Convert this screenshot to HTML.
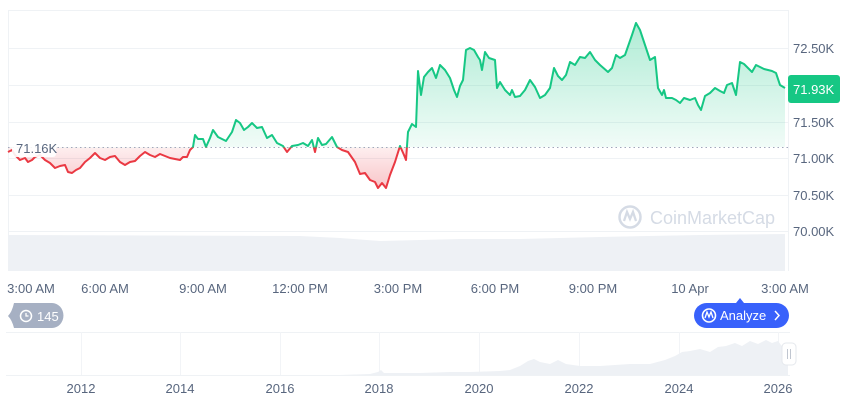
<!DOCTYPE html>
<html><head><meta charset="utf-8"><style>
html,body{margin:0;padding:0;background:#fff;}
svg{display:block;font-family:"Liberation Sans",sans-serif;}
</style></head><body>
<svg width="860" height="401" viewBox="0 0 860 401" xmlns="http://www.w3.org/2000/svg">
<defs>
<linearGradient id="gg" gradientUnits="userSpaceOnUse" x1="0" y1="20" x2="0" y2="147">
<stop offset="0" stop-color="#16c784" stop-opacity="0.35"/><stop offset="1" stop-color="#16c784" stop-opacity="0.06"/></linearGradient>
<linearGradient id="rg" gradientUnits="userSpaceOnUse" x1="0" y1="147" x2="0" y2="190">
<stop offset="0" stop-color="#ea3943" stop-opacity="0.08"/><stop offset="1" stop-color="#ea3943" stop-opacity="0.3"/></linearGradient>
<clipPath id="up"><rect x="0" y="0" width="790" height="147.5"/></clipPath>
<clipPath id="dn"><rect x="0" y="147.5" width="790" height="100"/></clipPath>
</defs>
<g stroke="#eff2f5" stroke-width="1">
<line x1="8" y1="10.5" x2="788" y2="10.5"/>
<line x1="8" y1="48.5" x2="788" y2="48.5"/>
<line x1="8" y1="85.5" x2="788" y2="85.5"/>
<line x1="8" y1="122.5" x2="788" y2="122.5"/>
<line x1="8" y1="158.5" x2="788" y2="158.5"/>
<line x1="8" y1="195.5" x2="788" y2="195.5"/>
<line x1="8" y1="231.5" x2="788" y2="231.5"/>
<line x1="8.5" y1="10" x2="8.5" y2="271"/>
<line x1="788.5" y1="10" x2="788.5" y2="271"/>
</g>
<path d="M8,235 L300,236 L340,238 L380,241 L420,240 L460,239 L520,239 L600,237 L700,235 L785,234 L785,271 L8,271 Z" fill="#eef1f5"/>
<g>
<circle cx="630" cy="217" r="10.5" fill="none" stroke="#d5dbe5" stroke-width="2.5"/>
<path d="M624,221 L627,212 L630,219 L633,212 L636,221" fill="none" stroke="#d5dbe5" stroke-width="2.3"/>
<text x="650" y="224" font-size="18" fill="#d5dbe5">CoinMarketCap</text>
</g>
<polygon fill="url(#gg)" clip-path="url(#up)" points="8,147 8,152 12,150 15,155 20,160 25,158 28,162 32,160 35,157 40,155 45,160 50,163 55,168 60,166 65,165 68,172 72,173 76,170 80,168 85,162 90,158 95,153 100,158 105,160 110,157 115,156 120,162 125,165 130,162 135,161 140,156 145,152 150,155 155,157 160,154 165,156 170,158 175,159 180,160 183,157 187,157 190,150 193,147 195,135 198,139 203,139 206,147 210,138 213,130 218,137 222,139 226,141 232,132 236,120 240,123 244,130 248,127 252,123 257,128 262,127 267,138 272,135 277,143 283,146 287,152 292,146 298,145 303,143 308,146 312,140 315,152 318,138 322,145 326,144 332,137 337,147 342,150 348,152 355,162 360,174 365,173 370,180 375,182 378,188 382,183 386,188 390,175 395,162 400,146 404,155 406,160 408,132 412,124 416,127 418,71 421,95 424,77 428,72 432,68 436,78 440,65 445,70 450,78 454,90 457,97 460,86 463,80 466,50 470,48 474,50 478,57 480,60 482,70 485,52 489,58 495,60 497,88 500,82 505,90 510,95 512,90 515,97 520,96 525,90 530,80 535,87 540,98 545,95 550,88 554,68 558,76 562,80 566,75 570,62 575,65 580,57 585,58 590,52 595,60 600,65 608,72 612,68 616,55 620,58 625,55 632,35 636,23 640,30 645,45 650,60 655,57 658,88 662,95 664,90 666,98 672,98 676,100 680,103 684,98 690,100 695,98 698,105 701,110 705,96 710,93 715,88 720,91 724,93 727,85 732,83 736,95 740,62 744,64 748,68 752,72 756,65 760,67 764,69 768,70 772,71 776,73 780,85 785,88 785,147"/>
<polygon fill="url(#rg)" clip-path="url(#dn)" points="8,147 8,152 12,150 15,155 20,160 25,158 28,162 32,160 35,157 40,155 45,160 50,163 55,168 60,166 65,165 68,172 72,173 76,170 80,168 85,162 90,158 95,153 100,158 105,160 110,157 115,156 120,162 125,165 130,162 135,161 140,156 145,152 150,155 155,157 160,154 165,156 170,158 175,159 180,160 183,157 187,157 190,150 193,147 195,135 198,139 203,139 206,147 210,138 213,130 218,137 222,139 226,141 232,132 236,120 240,123 244,130 248,127 252,123 257,128 262,127 267,138 272,135 277,143 283,146 287,152 292,146 298,145 303,143 308,146 312,140 315,152 318,138 322,145 326,144 332,137 337,147 342,150 348,152 355,162 360,174 365,173 370,180 375,182 378,188 382,183 386,188 390,175 395,162 400,146 404,155 406,160 408,132 412,124 416,127 418,71 785,88 785,147"/>
<line x1="8" y1="147.5" x2="788" y2="147.5" stroke="#a1a7bb" stroke-width="1" stroke-dasharray="1.5,3"/>
<polyline fill="none" stroke="#16c784" stroke-width="2" stroke-linejoin="round" clip-path="url(#up)" points="8,152 12,150 15,155 20,160 25,158 28,162 32,160 35,157 40,155 45,160 50,163 55,168 60,166 65,165 68,172 72,173 76,170 80,168 85,162 90,158 95,153 100,158 105,160 110,157 115,156 120,162 125,165 130,162 135,161 140,156 145,152 150,155 155,157 160,154 165,156 170,158 175,159 180,160 183,157 187,157 190,150 193,147 195,135 198,139 203,139 206,147 210,138 213,130 218,137 222,139 226,141 232,132 236,120 240,123 244,130 248,127 252,123 257,128 262,127 267,138 272,135 277,143 283,146 287,152 292,146 298,145 303,143 308,146 312,140 315,152 318,138 322,145 326,144 332,137 337,147 342,150 348,152 355,162 360,174 365,173 370,180 375,182 378,188 382,183 386,188 390,175 395,162 400,146 404,155 406,160 408,132 412,124 416,127 418,71 421,95 424,77 428,72 432,68 436,78 440,65 445,70 450,78 454,90 457,97 460,86 463,80 466,50 470,48 474,50 478,57 480,60 482,70 485,52 489,58 495,60 497,88 500,82 505,90 510,95 512,90 515,97 520,96 525,90 530,80 535,87 540,98 545,95 550,88 554,68 558,76 562,80 566,75 570,62 575,65 580,57 585,58 590,52 595,60 600,65 608,72 612,68 616,55 620,58 625,55 632,35 636,23 640,30 645,45 650,60 655,57 658,88 662,95 664,90 666,98 672,98 676,100 680,103 684,98 690,100 695,98 698,105 701,110 705,96 710,93 715,88 720,91 724,93 727,85 732,83 736,95 740,62 744,64 748,68 752,72 756,65 760,67 764,69 768,70 772,71 776,73 780,85 785,88"/>
<polyline fill="none" stroke="#ea3943" stroke-width="2" stroke-linejoin="round" clip-path="url(#dn)" points="8,152 12,150 15,155 20,160 25,158 28,162 32,160 35,157 40,155 45,160 50,163 55,168 60,166 65,165 68,172 72,173 76,170 80,168 85,162 90,158 95,153 100,158 105,160 110,157 115,156 120,162 125,165 130,162 135,161 140,156 145,152 150,155 155,157 160,154 165,156 170,158 175,159 180,160 183,157 187,157 190,150 193,147 195,135 198,139 203,139 206,147 210,138 213,130 218,137 222,139 226,141 232,132 236,120 240,123 244,130 248,127 252,123 257,128 262,127 267,138 272,135 277,143 283,146 287,152 292,146 298,145 303,143 308,146 312,140 315,152 318,138 322,145 326,144 332,137 337,147 342,150 348,152 355,162 360,174 365,173 370,180 375,182 378,188 382,183 386,188 390,175 395,162 400,146 404,155 406,160 408,132 412,124 416,127 418,71"/>
<rect x="12" y="140" width="44" height="17" rx="3" fill="#fff" opacity="0.9"/>
<text x="16" y="153" font-size="13" fill="#58667e">71.16K</text>
<g font-size="13" fill="#58667e">
<text x="793" y="53">72.50K</text>
<text x="793" y="127">71.50K</text>
<text x="793" y="163">71.00K</text>
<text x="793" y="200">70.50K</text>
<text x="793" y="236">70.00K</text>
</g>
<rect x="788" y="75" width="52" height="28" rx="3" fill="#16c784"/>
<text x="793" y="94" font-size="13" fill="#fff">71.93K</text>
<g font-size="13" fill="#58667e" text-anchor="middle">
<text x="31" y="293">3:00 AM</text>
<text x="105" y="293">6:00 AM</text>
<text x="203" y="293">9:00 AM</text>
<text x="300" y="293">12:00 PM</text>
<text x="398" y="293">3:00 PM</text>
<text x="495" y="293">6:00 PM</text>
<text x="593" y="293">9:00 PM</text>
<text x="690" y="293">10 Apr</text>
<text x="785" y="293">3:00 AM</text>
</g>
<path d="M14,303 H52 a11,12 0 0 1 0,25 H14 Q12,320 8,316 Q12,312 14,303 Z" fill="#a6b0c3"/>
<circle cx="26" cy="316" r="5.5" fill="none" stroke="#fff" stroke-width="1.5"/>
<path d="M26,313 V316 H28.5" fill="none" stroke="#fff" stroke-width="1.3"/>
<text x="37" y="321" font-size="13" fill="#fff">145</text>
<path d="M740,298 L744,303 L736,303 Z" fill="#3861fb"/>
<rect x="694" y="303" width="95" height="25" rx="12.5" fill="#3861fb"/>
<circle cx="709" cy="315.5" r="6.5" fill="none" stroke="#fff" stroke-width="1.6"/>
<path d="M705,318 L707,312 L709,317 L711,312 L713,318" fill="none" stroke="#fff" stroke-width="1.3"/>
<text x="720" y="320" font-size="13" fill="#fff">Analyze</text>
<path d="M775,311 L779,315.5 L775,320" fill="none" stroke="#fff" stroke-width="1.5"/>
<line x1="6" y1="332.5" x2="790" y2="332.5" stroke="#eff2f5"/>
<line x1="6" y1="375.5" x2="790" y2="375.5" stroke="#eff2f5"/>
<g stroke="#f2f4f7">
<line x1="81.5" y1="332" x2="81.5" y2="375"/><line x1="180.5" y1="332" x2="180.5" y2="375"/>
<line x1="280.5" y1="332" x2="280.5" y2="375"/><line x1="379.5" y1="332" x2="379.5" y2="375"/>
<line x1="479.5" y1="332" x2="479.5" y2="375"/><line x1="579.5" y1="332" x2="579.5" y2="375"/>
<line x1="679.5" y1="332" x2="679.5" y2="375"/><line x1="778.5" y1="332" x2="778.5" y2="375"/>
</g>
<path d="M340,375 L370,374 L378,372 L381,370 L384,373 L420,373 L450,372 L470,372 L500,371 L510,370 L520,366 L528,361 L534,359 L540,362 L550,364 L558,360 L566,364 L580,366 L600,366 L615,365 L630,364 L650,364 L665,360 L675,356 L682,352 L690,351 L700,349 L710,352 L718,347 L726,346 L735,343 L742,346 L750,341 L758,344 L766,340 L772,343 L778,341 L784,349 L788,350 L788,375 Z" fill="#eef1f5"/>
<rect x="782" y="343" width="14" height="22" rx="4" fill="#fff" stroke="#e5e8ed"/>
<line x1="787.5" y1="349" x2="787.5" y2="359" stroke="#c0c6d0"/>
<line x1="790.5" y1="349" x2="790.5" y2="359" stroke="#c0c6d0"/>
<g font-size="13" fill="#58667e" text-anchor="middle">
<text x="81" y="393">2012</text><text x="180" y="393">2014</text><text x="280" y="393">2016</text>
<text x="379" y="393">2018</text><text x="479" y="393">2020</text><text x="579" y="393">2022</text>
<text x="679" y="393">2024</text><text x="778" y="393">2026</text>
</g>
</svg>
</body></html>
